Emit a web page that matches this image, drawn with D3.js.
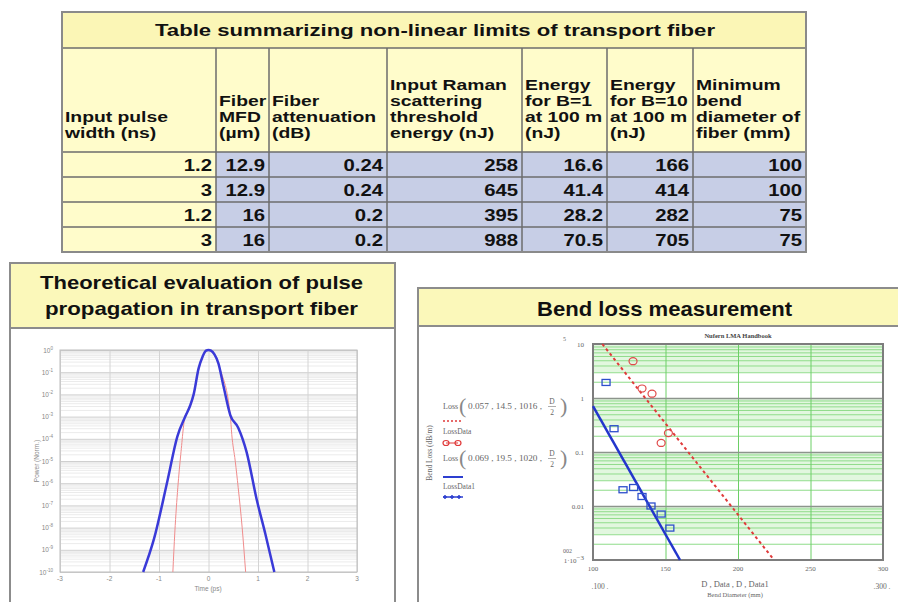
<!DOCTYPE html>
<html>
<head>
<meta charset="utf-8">
<script src="https://cdn.jsdelivr.net/npm/d3@7"></script>
<style>
  body { margin: 0; background: #fff; }
  svg { display: block; }
</style>
</head>
<body>
<svg id="svg" width="898" height="602"></svg>
<script>
  // ---- table data ----
  const tableTitle = "Table summarizing non-linear limits of transport fiber";
  const headers = [
    ["Input pulse", "width (ns)"],
    ["Fiber", "MFD", "(\u00b5m)"],
    ["Fiber", "attenuation", "(dB)"],
    ["Input Raman", "scattering", "threshold", "energy (nJ)"],
    ["Energy", "for B=1", "at 100 m", "(nJ)"],
    ["Energy", "for B=10", "at 100 m", "(nJ)"],
    ["Minimum", "bend", "diameter of", "fiber (mm)"]
  ];
  const pulseWidth = ["1.2", "3", "1.2", "3"];
  const fiberMfd = ["12.9", "12.9", "16", "16"];
  const attenuation = ["0.24", "0.24", "0.2", "0.2"];
  const ramanEnergy = ["258", "645", "395", "988"];
  const energyB1 = ["16.6", "41.4", "28.2", "70.5"];
  const energyB10 = ["166", "414", "282", "705"];
  const minBend = ["100", "100", "75", "75"];

  // ---- pulse propagation (log10 of normalised power vs time in ps) ----
  const pulseTicksX = [-3, -2, -1, 0, 1, 2, 3];
  const pulseDecades = [0, -1, -2, -3, -4, -5, -6, -7, -8, -9, -10];
  const outTime = [-1.32, -1.1, -0.83, -0.63, -0.47, -0.37, -0.3, -0.2, -0.12, -0.05, 0, 0.05, 0.12, 0.2, 0.3, 0.44, 0.6, 0.77, 0.97, 1.15, 1.33];
  const outPower = [-10, -8.5, -5.9, -3.9, -3.0, -2.5, -2.0, -0.83, -0.3, -0.03, 0, -0.03, -0.2, -0.6, -1.6, -2.93, -3.5, -4.6, -6.7, -8.3, -10];
  const inTime = [-0.72, -0.68, -0.62, -0.56, -0.47, -0.4, -0.3, -0.2, 0, 0.24, 0.44, 0.47, 0.54, 0.6, 0.68, 0.75];
  const inPower = [-10, -8.2, -6.2, -4.7, -2.95, -2.7, -2.05, -0.9, 0, -0.9, -2.95, -3.8, -5.0, -6.2, -8.0, -10];

  // ---- bend loss measurement ----
  const bendTicksX = [100, 150, 200, 250, 300];
  const bendTicksY = [10, 1, 0.1, 0.01, 0.001];
  const fitD = [106.4, 224];            // Loss(0.057, 14.5, 1016, D/2)
  const fitLoss = [10, 0.00107];
  const fit1D = [100, 160];             // Loss(0.069, 19.5, 1020, D/2)
  const fit1Loss = [0.71, 0.001];
  const dataD = [127.6, 133.8, 140.7, 152, 147];
  const dataLoss = [4.8, 1.5, 1.2, 0.224, 0.147];
  const data1D = [109, 114.5, 120.7, 128, 133.8, 140, 147, 153];
  const data1Loss = [1.94, 0.27, 0.02, 0.022, 0.015, 0.01, 0.0071, 0.0039];

  const svg = d3.select("#svg");
  const sans = "'Liberation Sans', Arial, sans-serif";
  const serif = "'Liberation Serif', 'Times New Roman', serif";

  // text stretched horizontally like the original slide
  function sText(g, x, y, str, size, sx, anchor) {
    return g.append("text")
      .attr("transform", `translate(${x},${y}) scale(${sx},1)`)
      .attr("text-anchor", anchor || "start")
      .style("font-family", sans)
      .style("font-weight", "bold")
      .style("font-size", size + "px")
      .attr("fill", "#111")
      .text(str);
  }

  // ================= TABLE =================
  const colX = [62, 216, 269, 387, 522, 607, 693, 806];
  const tableTop = 12, titleBottom = 48, headBottom = 152, tableBottom = 252;
  const table = svg.append("g");

  const rowScale = d3.scaleBand()
      .domain(d3.range(pulseWidth.length))
      .range([headBottom, tableBottom]);

  const columns = [pulseWidth, fiberMfd, attenuation, ramanEnergy, energyB1, energyB10, minBend];

  table.append("rect")
      .attr("x", colX[0]).attr("y", tableTop)
      .attr("width", colX[7] - colX[0]).attr("height", titleBottom - tableTop)
      .attr("fill", "#fbf6b6");

  table.append("rect")
      .attr("x", colX[0]).attr("y", titleBottom)
      .attr("width", colX[7] - colX[0]).attr("height", headBottom - titleBottom)
      .attr("fill", "#fffccb");

  columns.forEach(function(col, ci) {
    table.selectAll(".cell" + ci)
      .data(col)
      .enter().append("rect")
      .attr("x", colX[ci])
      .attr("y", (d, i) => rowScale(i))
      .attr("width", colX[ci + 1] - colX[ci])
      .attr("height", rowScale.bandwidth())
      .attr("fill", ci === 0 ? "#fffccb" : "#c7cee6");

    col.forEach(function(d, i) {
      sText(table, colX[ci + 1] - 4, rowScale(i) + rowScale.bandwidth() / 2 + 6, d, 16, 1.27, "end");
    });

    const lines = headers[ci];
    lines.forEach(function(s, li) {
      sText(table, colX[ci] + 3, 138 - (lines.length - 1 - li) * 16, s, 14, 1.38, "start");
    });
  });

  // grid lines of the table
  const border = "#6d6d6d";
  colX.slice(1, 7).forEach(function(x) {
    table.append("line").attr("x1", x).attr("x2", x)
      .attr("y1", titleBottom).attr("y2", tableBottom)
      .attr("stroke", border).attr("stroke-width", 1.5);
  });
  [titleBottom, headBottom].concat(d3.range(1, pulseWidth.length).map(i => rowScale(i))).forEach(function(y) {
    table.append("line").attr("x1", colX[0]).attr("x2", colX[7])
      .attr("y1", y).attr("y2", y)
      .attr("stroke", border).attr("stroke-width", 1.5);
  });
  table.append("rect")
      .attr("x", colX[0]).attr("y", tableTop)
      .attr("width", colX[7] - colX[0]).attr("height", tableBottom - tableTop)
      .attr("fill", "none").attr("stroke", "#8a8a8a").attr("stroke-width", 2);

  table.append("text")
      .attr("x", 155).attr("y", 36)
      .attr("textLength", 560).attr("lengthAdjust", "spacingAndGlyphs")
      .style("font-family", sans).style("font-weight", "bold").style("font-size", "16.5px")
      .attr("fill", "#111")
      .text(tableTitle);

  // ================= PANELS =================
  function panel(x, y, w, h, titleH) {
    const g = svg.append("g");
    g.append("rect").attr("x", x).attr("y", y).attr("width", w).attr("height", h)
      .attr("fill", "#fff").attr("stroke", "#8c8c8c").attr("stroke-width", 2);
    g.append("rect").attr("x", x).attr("y", y).attr("width", w).attr("height", titleH)
      .attr("fill", "#fbf8ba").attr("stroke", "#8c8c8c").attr("stroke-width", 2);
    return g;
  }

  const leftPanel = panel(10, 263, 385, 360, 65);
  leftPanel.append("text")
      .attr("x", 40).attr("y", 289)
      .attr("textLength", 323).attr("lengthAdjust", "spacingAndGlyphs")
      .style("font-family", sans).style("font-weight", "bold").style("font-size", "19px")
      .attr("fill", "#111")
      .text("Theoretical evaluation of pulse");
  leftPanel.append("text")
      .attr("x", 45).attr("y", 315)
      .attr("textLength", 313).attr("lengthAdjust", "spacingAndGlyphs")
      .style("font-family", sans).style("font-weight", "bold").style("font-size", "19px")
      .attr("fill", "#111")
      .text("propagation in transport fiber");

  const rightPanel = panel(418, 288, 500, 340, 38);
  rightPanel.append("text")
      .attr("x", 537).attr("y", 315.5)
      .attr("textLength", 255).attr("lengthAdjust", "spacingAndGlyphs")
      .style("font-family", sans).style("font-weight", "bold").style("font-size", "21px")
      .attr("fill", "#111")
      .text("Bend loss measurement");

  // ================= PULSE PLOT =================
  const px = d3.scaleLinear().domain([-3, 3]).range([60, 357]);
  const py = d3.scaleLog().domain([1e-10, 1]).range([572, 350]);
  const pulse = svg.append("g");

  const minorPulse = [];
  pulseDecades.slice(1).forEach(function(e) {
    d3.range(2, 10).forEach(k => minorPulse.push(k * Math.pow(10, e)));
  });
  pulse.append("g")
      .attr("transform", "translate(60,0)")
      .call(d3.axisLeft(py).tickValues(minorPulse).tickSize(-297).tickFormat(""))
      .call(g => g.select(".domain").remove())
      .call(g => g.selectAll("line").attr("stroke", "#ebebeb"));
  pulse.append("g")
      .attr("transform", "translate(60,0)")
      .call(d3.axisLeft(py).tickValues(pulseDecades.map(e => Math.pow(10, e))).tickSize(-297).tickFormat(""))
      .call(g => g.select(".domain").remove())
      .call(g => g.selectAll("line").attr("stroke", "#cfcfcf"));
  pulse.append("g")
      .attr("transform", "translate(0,572)")
      .call(d3.axisBottom(px).tickValues(pulseTicksX).tickSize(-222).tickFormat(""))
      .call(g => g.select(".domain").remove())
      .call(g => g.selectAll("line").attr("stroke", "#d4d4d4"));
  pulse.append("rect").attr("x", 60).attr("y", 350).attr("width", 297).attr("height", 222)
      .attr("fill", "none").attr("stroke", "#bdbdbd");

  pulse.selectAll(".ylab").data(pulseDecades).enter().append("text")
      .attr("x", 53).attr("y", d => py(Math.pow(10, d)) + 2.5)
      .attr("text-anchor", "end")
      .style("font-family", sans).style("font-size", "6.5px").attr("fill", "#888")
      .each(function(d) {
        d3.select(this).append("tspan").text("10");
        d3.select(this).append("tspan").attr("dy", -3).style("font-size", "4.5px").text(d);
      });
  pulse.selectAll(".xlab").data(pulseTicksX).enter().append("text")
      .attr("x", d => px(d)).attr("y", 581)
      .attr("text-anchor", "middle")
      .style("font-family", sans).style("font-size", "6.5px").attr("fill", "#888")
      .text(d => d);
  pulse.append("text").attr("x", 208).attr("y", 591).attr("text-anchor", "middle")
      .style("font-family", sans).style("font-size", "6.5px").attr("fill", "#888")
      .text("Time (ps)");
  pulse.append("text").attr("transform", "translate(39,461) rotate(-90)").attr("text-anchor", "middle")
      .style("font-family", sans).style("font-size", "6.5px").attr("fill", "#888")
      .text("Power (Norm.)");

  const pulseLine = d3.line()
      .x(d => px(d[0]))
      .y(d => py(Math.pow(10, d[1])))
      .curve(d3.curveMonotoneX);
  pulse.append("path")
      .datum(d3.zip(inTime, inPower))
      .attr("fill", "none").attr("stroke", "#f08c8c").attr("stroke-width", 1)
      .attr("d", pulseLine);
  pulse.append("path")
      .datum(d3.zip(outTime, outPower))
      .attr("fill", "none").attr("stroke", "#3a3ad8").attr("stroke-width", 2.5)
      .attr("d", pulseLine);

  // ================= BEND LOSS PLOT =================
  const bx = d3.scaleLinear().domain([100, 300]).range([593, 883]);
  const by = d3.scaleLog().domain([0.001, 10]).range([560, 344]);
  const bend = svg.append("g");

  // shaded upper part of each decade
  bend.selectAll(".band").data(bendTicksY.slice(0, 4)).enter().append("rect")
      .attr("x", 593).attr("width", 290)
      .attr("y", d => by(d)).attr("height", d => by(d * 0.3) - by(d))
      .attr("fill", "#e2f7df");

  const minorBend = [];
  bendTicksY.slice(1).forEach(function(v) {
    d3.range(2, 10).forEach(k => minorBend.push(k * v));
  });
  bend.append("g")
      .attr("transform", "translate(593,0)")
      .call(d3.axisLeft(by).tickValues(minorBend).tickSize(-290).tickFormat(""))
      .call(g => g.select(".domain").remove())
      .call(g => g.selectAll("line").attr("stroke", "#8fdc8a"));
  bend.append("g")
      .attr("transform", "translate(0,560)")
      .call(d3.axisBottom(bx).tickValues(bendTicksX.slice(1, 4)).tickSize(-216).tickFormat(""))
      .call(g => g.select(".domain").remove())
      .call(g => g.selectAll("line").attr("stroke", "#6ccf66"));
  bend.append("g")
      .attr("transform", "translate(593,0)")
      .call(d3.axisLeft(by).tickValues(bendTicksY.slice(1, 4)).tickSize(-290).tickFormat(""))
      .call(g => g.select(".domain").remove())
      .call(g => g.selectAll("line").attr("stroke", "#8c948c").attr("stroke-width", 1.5));
  bend.append("rect").attr("x", 593).attr("y", 344).attr("width", 290).attr("height", 216)
      .attr("fill", "none").attr("stroke", "#7d7d7d").attr("stroke-width", 2);

  const serifLabel = (g, x, y, s, anchor, size) => g.append("text")
      .attr("x", x).attr("y", y).attr("text-anchor", anchor || "middle")
      .style("font-family", serif).style("font-size", (size || 7) + "px").attr("fill", "#666")
      .text(s);

  bend.selectAll(".bylab").data(bendTicksY.slice(0, 4)).enter().append("text")
      .attr("x", 584).attr("y", d => by(d) + 2.5).attr("text-anchor", "end")
      .style("font-family", serif).style("font-size", "7px").attr("fill", "#666")
      .text(d => d === 10 ? "10" : d3.format("~g")(d));
  bend.append("text").attr("x", 584).attr("y", by(0.001) + 3).attr("text-anchor", "end")
      .style("font-family", serif).style("font-size", "7px").attr("fill", "#666")
      .call(t => { t.append("tspan").text("1\u00b710"); t.append("tspan").attr("dy", -3).text("\u22123"); });
  serifLabel(bend, 572, 553, "002", "end", 6);
  serifLabel(bend, 566, 341, "5", "end", 6);
  bend.selectAll(".bxlab").data(bendTicksX).enter().append("text")
      .attr("x", d => bx(d)).attr("y", 571).attr("text-anchor", "middle")
      .style("font-family", serif).style("font-size", "7px").attr("fill", "#666")
      .text(d => d);
  serifLabel(bend, 600, 589, ".100 .", "middle", 7.5);
  serifLabel(bend, 882, 589, ".300 .", "middle", 7.5);
  serifLabel(bend, 735, 587, "D , Data , D , Data1", "middle", 8.5);
  serifLabel(bend, 735, 597, "Bend Diameter (mm)", "middle", 6.5);
  serifLabel(bend, 738, 338, "Nufern LMA Handbook", "middle", 6.5).style("font-weight", "bold").attr("fill", "#444");
  bend.append("text").attr("transform", "translate(432,453) rotate(-90)").attr("text-anchor", "middle")
      .style("font-family", serif).style("font-size", "7.5px").attr("fill", "#666")
      .text("Bend Loss (dB/m)");

  // legend expressions
  function lossExpr(y, args) {
    serifLabel(bend, 443, y + 3, "Loss", "start", 8);
    serifLabel(bend, 459, y + 6.5, "(", "start", 22).style("font-weight", "lighter").attr("fill", "#888");
    serifLabel(bend, 468, y + 3, args, "start", 7.5).attr("textLength", 74).attr("lengthAdjust", "spacingAndGlyphs");
    serifLabel(bend, 552, y - 2, "D", "middle", 7.5);
    bend.append("line").attr("x1", 548).attr("x2", 556).attr("y1", y + 0.5).attr("y2", y + 0.5)
      .attr("stroke", "#777").attr("stroke-width", 0.6);
    serifLabel(bend, 552, y + 8.5, "2", "middle", 7.5);
    serifLabel(bend, 560, y + 6.5, ")", "start", 22).style("font-weight", "lighter").attr("fill", "#888");
  }
  lossExpr(406, "0.057 , 14.5 , 1016 ,");
  bend.append("line").attr("x1", 443).attr("x2", 463).attr("y1", 421).attr("y2", 421)
      .attr("stroke", "#e03a3a").attr("stroke-width", 1.5).attr("stroke-dasharray", "2,2");
  serifLabel(bend, 443, 434, "LossData", "start", 7.5);
  bend.append("line").attr("x1", 446).attr("x2", 458).attr("y1", 443).attr("y2", 443)
      .attr("stroke", "#e03a3a").attr("stroke-width", 1);
  [446, 458].forEach(cx => bend.append("ellipse").attr("cx", cx).attr("cy", 443).attr("rx", 3).attr("ry", 2.5)
      .attr("fill", "none").attr("stroke", "#e03a3a").attr("stroke-width", 1.2));
  lossExpr(458, "0.069 , 19.5 , 1020 ,");
  bend.append("line").attr("x1", 443).attr("x2", 463).attr("y1", 477).attr("y2", 477)
      .attr("stroke", "#2d3fd0").attr("stroke-width", 2);
  serifLabel(bend, 443, 489, "LossData1", "start", 7.5);
  bend.append("line").attr("x1", 443).attr("x2", 463).attr("y1", 497).attr("y2", 497)
      .attr("stroke", "#2d3fd0").attr("stroke-width", 1.5);
  [445, 452, 459].forEach(cx => bend.append("path")
      .attr("d", `M${cx - 2},497 L${cx + 2},497 M${cx},495 L${cx},499`)
      .attr("stroke", "#2d3fd0").attr("stroke-width", 1.5));

  // fitted lines and measured points
  const bendLine = d3.line().x(d => bx(d[0])).y(d => by(d[1]));
  bend.append("path")
      .datum(d3.zip(fitD, fitLoss))
      .attr("fill", "none").attr("stroke", "#e03a3a").attr("stroke-width", 2)
      .attr("stroke-dasharray", "3,3")
      .attr("d", bendLine);
  bend.append("path")
      .datum(d3.zip(fit1D, fit1Loss))
      .attr("fill", "none").attr("stroke", "#2336cc").attr("stroke-width", 2.5)
      .attr("d", bendLine);

  bend.selectAll(".circ").data(d3.zip(dataD, dataLoss)).enter().append("ellipse")
      .attr("cx", d => bx(d[0])).attr("cy", d => by(d[1]))
      .attr("rx", 4).attr("ry", 3.5)
      .attr("fill", "none").attr("stroke", "#e04a4a").attr("stroke-width", 1.2);
  bend.selectAll(".sq").data(d3.zip(data1D, data1Loss)).enter().append("rect")
      .attr("x", d => bx(d[0]) - 4).attr("y", d => by(d[1]) - 3)
      .attr("width", 8).attr("height", 6)
      .attr("fill", "none").attr("stroke", "#2d4fcc").attr("stroke-width", 1.3);
</script>
</body>
</html>
